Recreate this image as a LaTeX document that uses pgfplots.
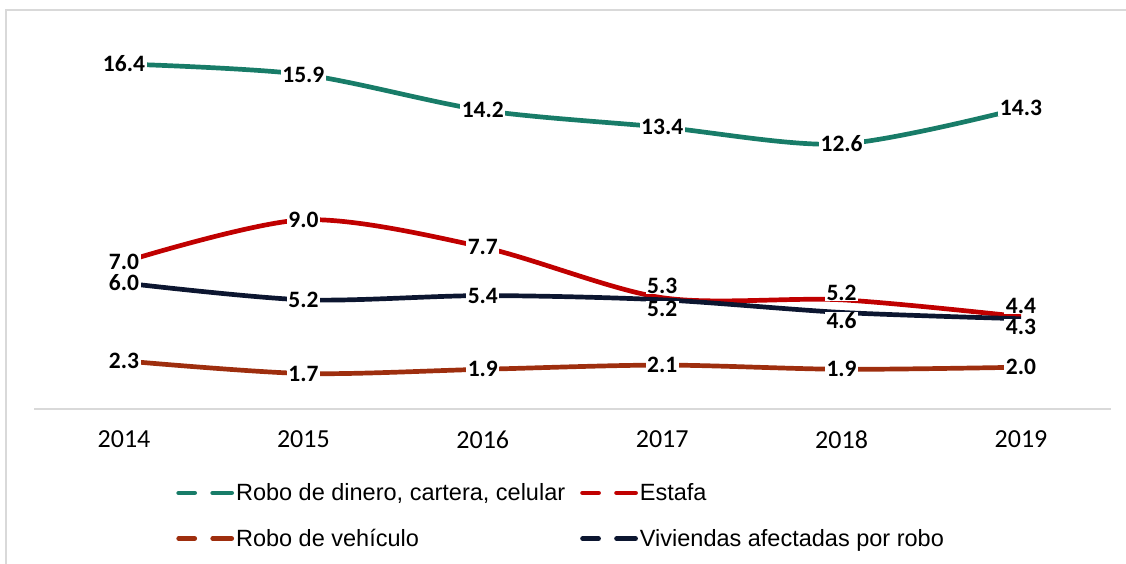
\documentclass[border=0pt]{standalone}
\usepackage{fontspec}
\setmainfont{Carlito}
\newfontfamily\legfont{Liberation Sans}
\usepackage{pgfplots}
\usepackage{pgfplotstable}
\pgfplotsset{compat=1.18}
\definecolor{cgreen}{RGB}{24,124,104}
\definecolor{cred}{RGB}{192,0,0}
\definecolor{cbrown}{RGB}{158,46,14}
\definecolor{cnavy}{RGB}{12,22,48}
\definecolor{cframe}{RGB}{217,217,217}

\pgfplotstableread{
x dinero estafa vehiculo viviendas edy vdy
0 16.4 7.0 2.3 6.0 0 0
1 15.9 9.0 1.7 5.2 0 0
2 14.2 7.7 1.9 5.4 0 0
3 13.4 5.3 2.1 5.2 12 -9
4 12.6 5.2 1.9 4.6 7 -8
5 14.3 4.4 2.0 4.3 11 -8
}\data

\pgfplotsset{
 lbl/.style={forget plot, draw=none, mark=none, point meta=y,
  nodes near coords={\pgfmathprintnumber[fixed,fixed zerofill,precision=1,assume math mode=true]{\pgfplotspointmeta}},
  every node near coord/.append style={anchor=center, font=\fontsize{23.5}{27}\selectfont\bfseries, fill=white, inner xsep=1.5pt, inner ysep=0.3pt, text=black}},
 ln/.style={line width=4.7pt, smooth}
}

\begin{document}
\begin{tikzpicture}[x=1pt,y=1pt]
\useasboundingbox (0,0) rectangle (1126,563);
\draw[cframe, line width=2pt] (6,-5) -- (6,553) -- (1140,553);
\begin{axis}[
 at={(34.3pt,153.7pt)}, anchor=south west,
 scale only axis, width=1076.4pt, height=379pt,
 xmin=-0.5, xmax=5.5, ymin=0, ymax=18,
 axis x line*=bottom, axis y line=none,
 x axis line style={cframe, line width=2pt, -},
 xtick={0,1,2,3,4,5}, xticklabels={2014,2015,2016,2017,2018,2019},
 major tick length=0pt,
 xticklabel style={font=\fontsize{26}{30}\selectfont, text=black, yshift=-18pt},
 ytick=\empty,
 clip=false,
 legend columns=2,
 legend cell align=left,
 legend image code/.code={
   \draw[#1, line cap=round] (2pt,0pt) -- (18pt,0pt);
   \draw[#1, line cap=round] (36pt,0pt) -- (55pt,0pt);
 },
 legend style={draw=none, fill=none, at={(0.129,-0.185)}, anchor=north west,
   font=\legfont\fontsize{23.5}{27}\selectfont,
   /tikz/every even column/.append style={column sep=13pt}, row sep=23pt},
]
\addplot[ln, cgreen] table[x=x,y=dinero]{\data};
\addlegendentry{Robo de dinero, cartera, celular}
\addplot[ln, cred] table[x=x,y=estafa]{\data};
\addlegendentry{Estafa}
\addplot[ln, cbrown] table[x=x,y=vehiculo]{\data};
\addlegendentry{Robo de vehículo}
\addplot[ln, cnavy] table[x=x,y=viviendas]{\data};
\addlegendentry{Viviendas afectadas por robo}

\addplot[lbl] table[x=x,y=dinero]{\data};
\addplot[lbl] table[x=x,y=vehiculo]{\data};
\addplot[lbl, visualization depends on={\thisrow{edy} \as \dy},
  every node near coord/.append style={yshift=\dy pt}] table[x=x,y=estafa]{\data};
\addplot[lbl, visualization depends on={\thisrow{vdy} \as \dy},
  every node near coord/.append style={yshift=\dy pt}] table[x=x,y=viviendas]{\data};
\end{axis}
\end{tikzpicture}
\end{document}
